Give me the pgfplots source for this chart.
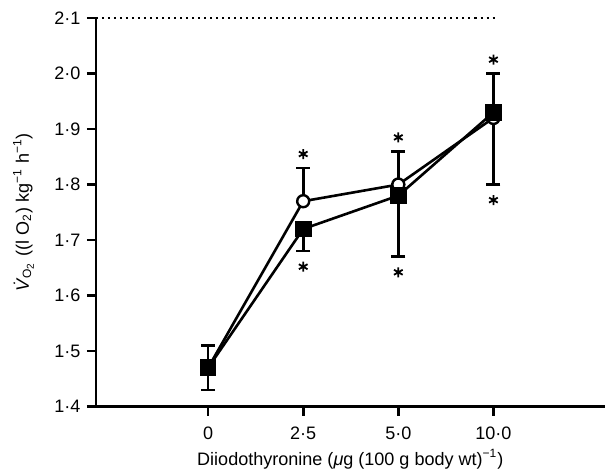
\documentclass[border=0pt]{standalone}
\usepackage{fontspec}
\setmainfont{Liberation Sans}
\usepackage{pgfplots}
\pgfplotsset{compat=1.18}
\begin{document}
\fontsize{9}{11}\selectfont
\begin{tikzpicture}
  \begin{axis}[
    scale only axis,
    width=254pt,
    height=194pt,
    xmin=-1.18, xmax=4.17,
    ymin=1.4, ymax=2.1,
    axis lines=left,
    axis line style={-, line width=1.3pt},
    tick style={line width=1.3pt, black},
    tick align=outside,
    major tick length=4.5pt,
    xtick={0,1,2,3},
    xticklabels={0,2·5,5·0,10·0},
    ytick={1.4,1.5,1.6,1.7,1.8,1.9,2.0,2.1},
    yticklabels={1·4,1·5,1·6,1·7,1·8,1·9,2·0,2·1},
    tick label style={font=\fontsize{9}{11}\selectfont},
    xticklabel style={yshift=-2.5pt},
    label style={font=\fontsize{9}{11}\selectfont},
    xlabel={Diiodothyronine (\textit{μ}g (100 g body wt)\textsuperscript{−1})},
    ylabel={\textit{\.{V}}\textsubscript{O\textsubscript{2}} ((l O\textsubscript{2}) kg\textsuperscript{−1} h\textsuperscript{−1})},
    xlabel style={yshift=1.5pt},
    ylabel style={inner ysep=6.5pt, yshift=0.5pt},
    clip=false,
  ]
    % dotted reference line at top
    \addplot[black, dash pattern=on 1pt off 2pt, line width=1pt] coordinates {(-1.18,2.1) (3.04,2.1)};

    % open circles
    \addplot[black, line width=1.3pt, mark=*, mark size=3pt,
      mark options={fill=white, line width=1.2pt},
      error bars/.cd, y dir=both, y explicit,
      error bar style={line width=1.3pt},
      error mark options={rotate=90, mark size=3.5pt, line width=1.3pt}]
      coordinates {
        (0,1.47)
        (1,1.77) += (0,0.06) -= (0,0)
        (2,1.80) += (0,0.06) -= (0,0)
        (3,1.92) += (0,0) -= (0,0.12)
      };

    % filled squares
    \addplot[black, line width=1.3pt, mark=square*, mark size=3.5pt,
      mark options={fill=black},
      error bars/.cd, y dir=both, y explicit,
      error bar style={line width=1.3pt},
      error mark options={rotate=90, mark size=3.5pt, line width=1.3pt}]
      coordinates {
        (0,1.47) += (0,0.04) -= (0,0.04)
        (1,1.72) += (0,0) -= (0,0.04)
        (2,1.78) += (0,0) -= (0,0.11)
        (3,1.93) += (0,0.07) -= (0,0)
      };

    % significance asterisks
    \addplot[only marks, black, mark=asterisk, mark size=2.5pt,
      mark options={line width=0.9pt}] coordinates {
      (1,1.855) (1,1.652)
      (2,1.885) (2,1.642)
      (3,2.025) (3,1.772)
    };
  \end{axis}
  % room above the top tick label, as in the original
  \path ([yshift=9pt]current axis.north west);
\end{tikzpicture}
\end{document}
